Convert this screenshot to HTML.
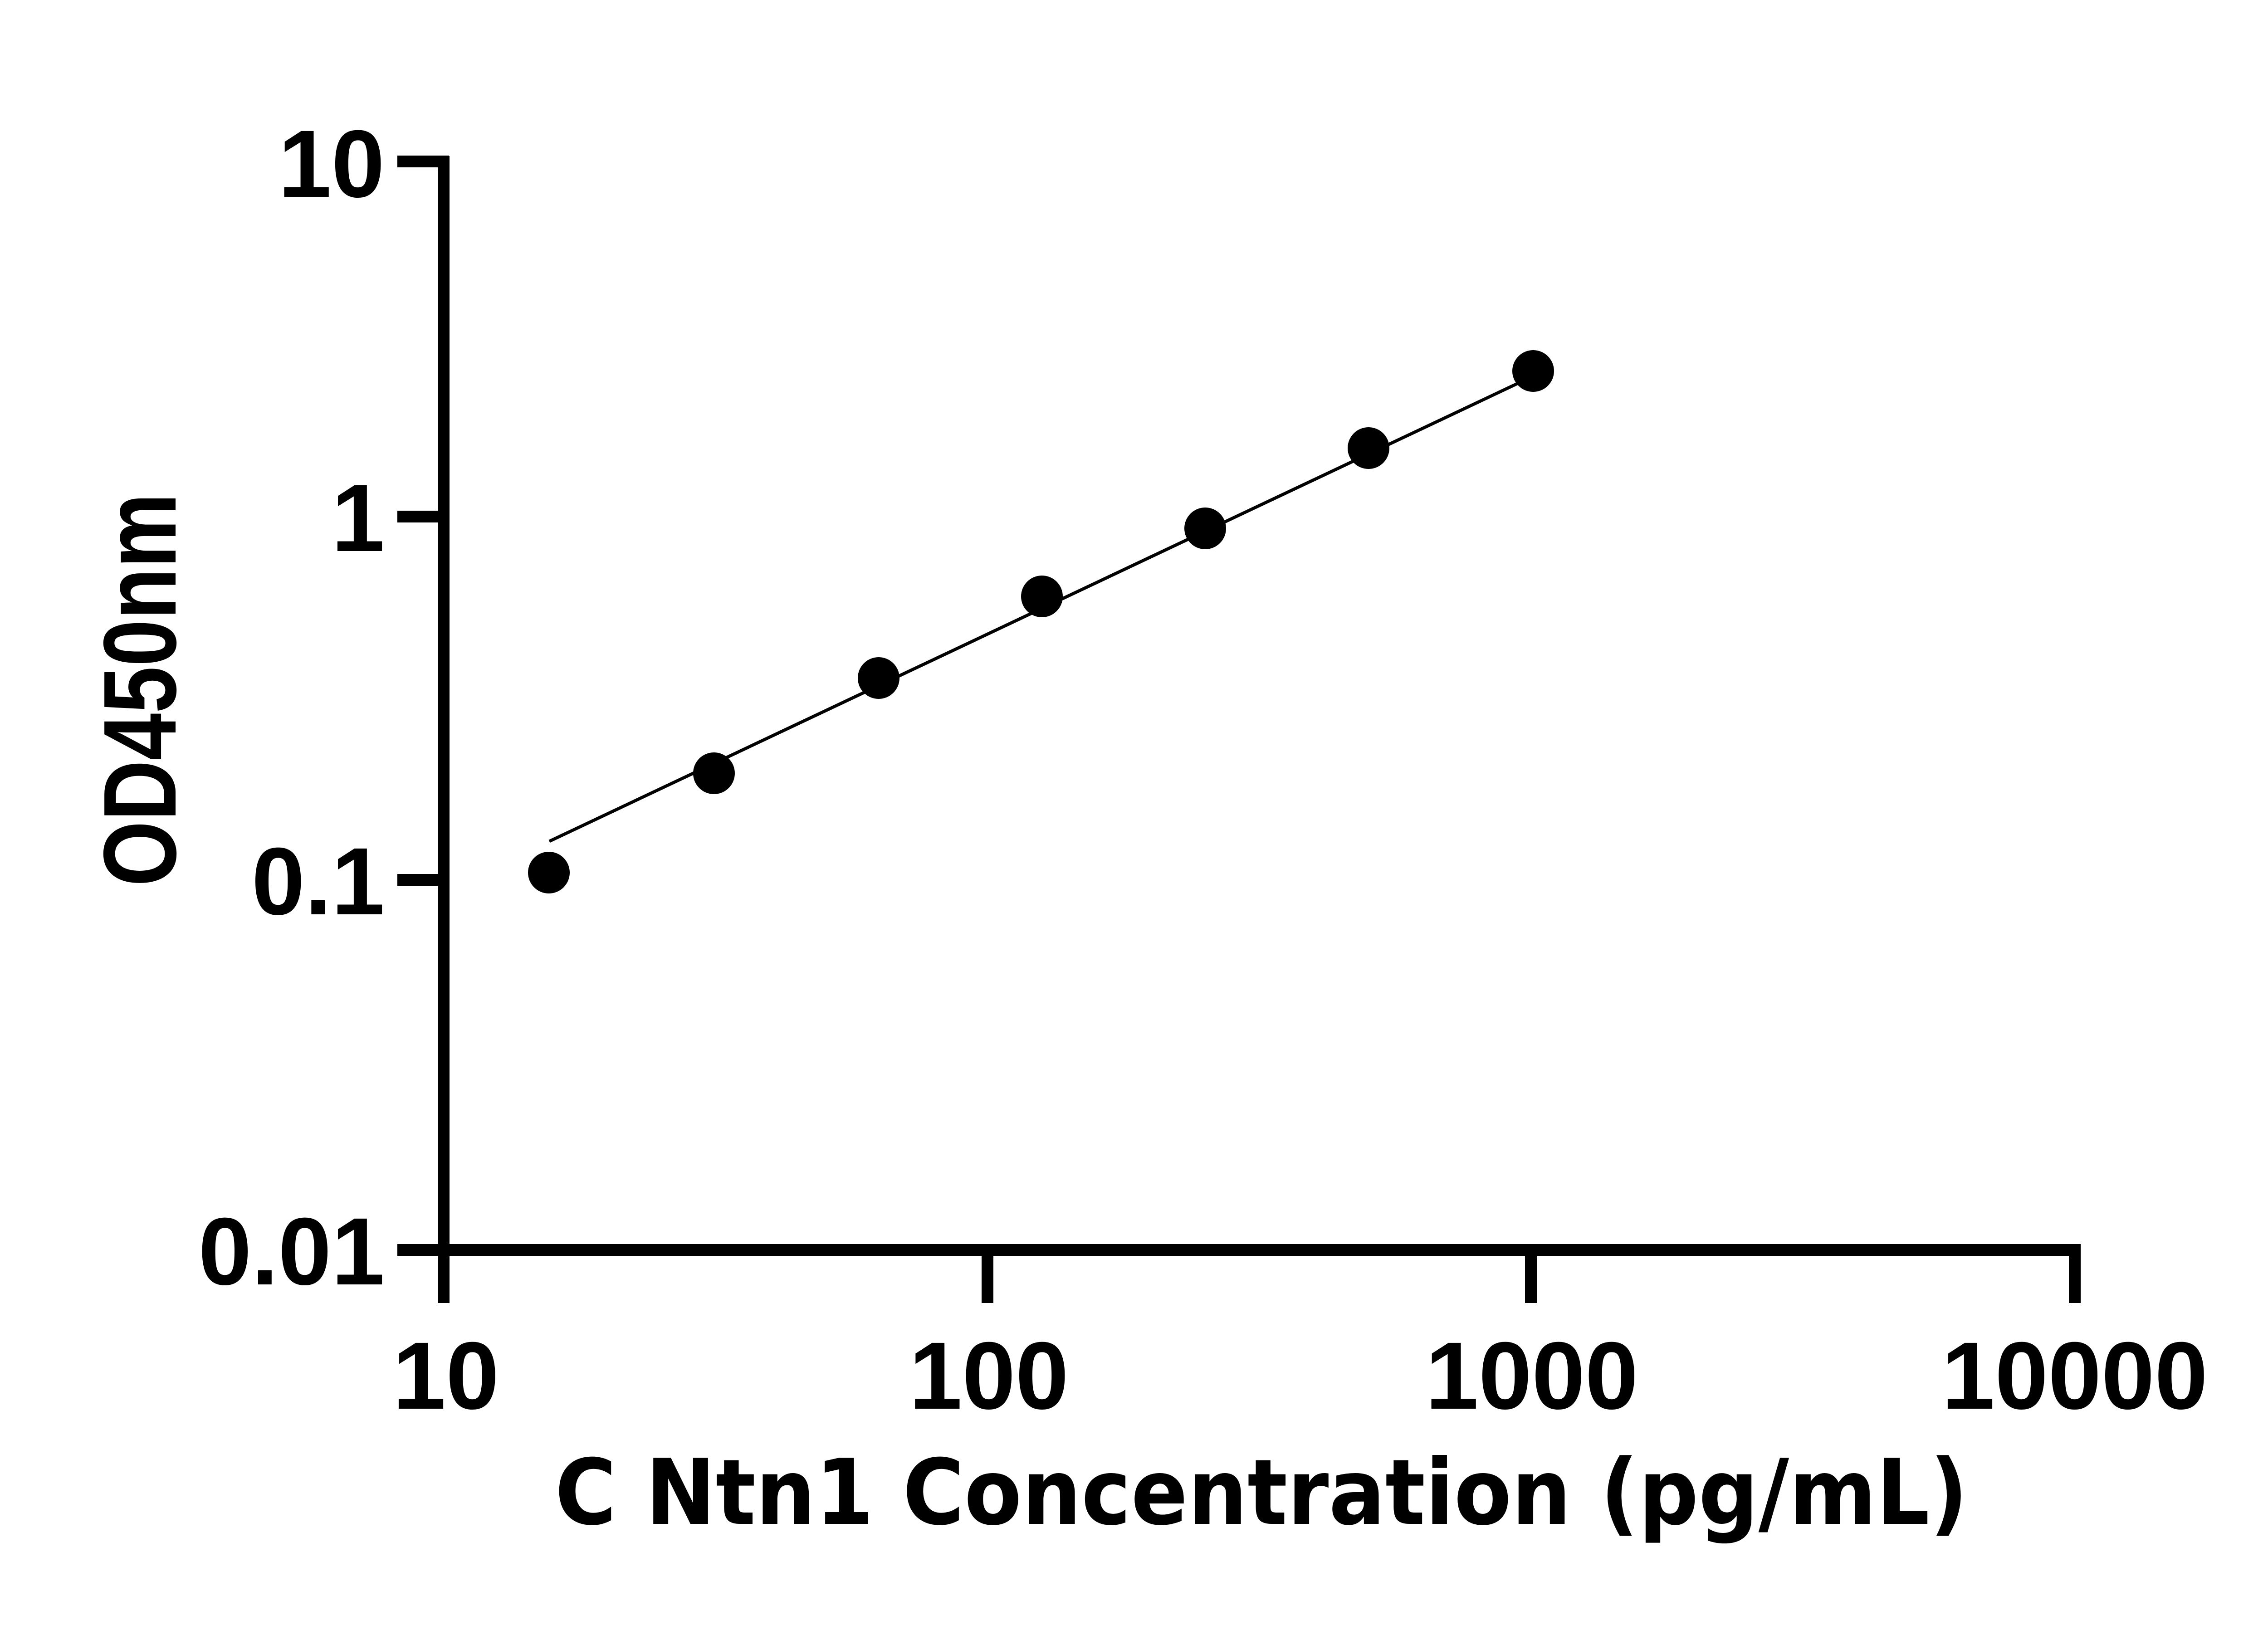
<!DOCTYPE html>
<html><head><style>html,body{margin:0;padding:0;background:#fff}</style></head><body>
<svg width="5130" height="3600" xmlns="http://www.w3.org/2000/svg">
<rect width="5130" height="3600" fill="#fff"/>
<g stroke="#000" stroke-width="26" fill="none">
<line x1="978" y1="344" x2="978" y2="2873"/>
<line x1="876" y1="2756" x2="4586" y2="2756"/>
<line x1="876" y1="356" x2="990" y2="356"/>
<line x1="876" y1="1139" x2="978" y2="1139"/>
<line x1="876" y1="1940" x2="978" y2="1940"/>
<line x1="2177" y1="2756" x2="2177" y2="2873"/>
<line x1="3375" y1="2756" x2="3375" y2="2873"/>
<line x1="4574" y1="2743" x2="4574" y2="2873"/>
</g>
<g font-family="Liberation Sans, Arial, sans-serif" font-weight="bold" font-size="211" fill="#000">
<text x="848" y="434" text-anchor="end">10</text>
<text x="848" y="1215" text-anchor="end">1</text>
<text x="848" y="2016" text-anchor="end">0.1</text>
<text x="848" y="2832" text-anchor="end">0.01</text>
<text x="983" y="3106" text-anchor="middle">10</text>
<text x="2180" y="3106" text-anchor="middle">100</text>
<text x="3377" y="3106" text-anchor="middle">1000</text>
<text x="4574" y="3106" text-anchor="middle">10000</text>
<text transform="translate(387,1521) rotate(-90)" text-anchor="middle" font-size="228" textLength="867" lengthAdjust="spacingAndGlyphs">OD450nm</text>
</g>
<text x="2781" y="3360" text-anchor="middle" font-family="DejaVu Sans, sans-serif" font-weight="bold" font-size="200" textLength="3115" lengthAdjust="spacingAndGlyphs">C Ntn1 Concentration (pg/mL)</text>
<line x1="1211" y1="1855" x2="3370" y2="834" stroke="#000" stroke-width="7"/>
<g fill="#000">
<circle cx="1210" cy="1924" r="46"/>
<circle cx="1574" cy="1705" r="46"/>
<circle cx="1937" cy="1495" r="46"/>
<circle cx="2297" cy="1315" r="46"/>
<circle cx="2657" cy="1165" r="46"/>
<circle cx="3017" cy="988" r="46"/>
<circle cx="3380" cy="818" r="46"/>
</g>
</svg>
</body></html>
